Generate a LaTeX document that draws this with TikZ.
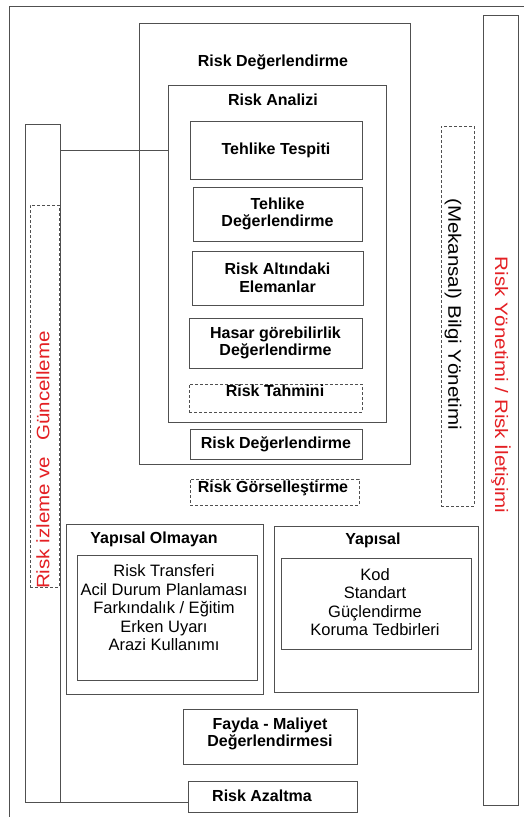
\documentclass[tikz,border=0pt]{standalone}
\usepackage{fontspec}
\setmainfont{Liberation Sans}
\definecolor{lineg}{RGB}{80,80,80}
\definecolor{rred}{RGB}{228,32,36}
\begin{document}
\begin{tikzpicture}[x=1pt,y=-1pt,
  box/.style={draw=lineg,line width=0.9pt,inner sep=0pt,rectangle,fill=white},
  dbox/.style={box,dashed,dash pattern=on 3pt off 2pt},
  bt/.style={font=\fontsize{16}{17.5}\selectfont\bfseries,align=center,inner sep=0pt},
  rt/.style={font=\fontsize{16.5}{18.5}\selectfont,align=center,inner sep=0pt},
  vt/.style={font=\fontsize{18}{20}\selectfont,inner sep=0pt},
  conn/.style={draw=lineg,line width=0.9pt}]
\useasboundingbox (0,0) rectangle (524,817);
\fill[white] (0,0) rectangle (524,817);
% outer frame (partially visible)
\coordinate (fbl) at (9,817);
\coordinate (ftl) at (9,6);
\coordinate (ftr) at (524,6);
\draw[conn] (fbl) -- (ftl) -- (ftr);
% right red column
\node[box,minimum width=35,minimum height=790] (rmr) at (500.5,410) {};
\node[vt,rotate=-90,xscale=1.14,text=rred] (rmrt) at (501,385) {Risk Yönetimi / Risk İletişimi};
% spatial information management
\node[dbox,minimum width=33,minimum height=380] (mek) at (457.5,316) {};
\node[vt,rotate=-90,xscale=1.14] (mekt) at (453,314) {(Mekansal) Bilgi Yönetimi};
% left monitoring column
\node[box,minimum width=35,minimum height=678] (rig) at (42.5,463) {};
\node[dbox,minimum width=29,minimum height=382] (rigd) at (44.5,396) {};
\node[vt,rotate=90,xscale=1.14,text=rred] (rigt) at (43,460) {Risk izleme ve\hspace{14pt}Güncelleme};
% risk assessment
\node[box,minimum width=271,minimum height=441] (rd) at (274.5,243.5) {};
\node[bt] (rdt) at (273,62) {Risk Değerlendirme};
\node[box,minimum width=218,minimum height=337] (ra) at (277,253.5) {};
\node[bt] (rat) at (273,100) {Risk Analizi};
\node[box,bt,minimum width=172,minimum height=58] (tt) at (276,150) {Tehlike Tespiti};
\node[box,bt,minimum width=169,minimum height=54] (td) at (277.5,214) {Tehlike\\Değerlendirme};
\node[box,bt,minimum width=171,minimum height=54] (rae) at (277.5,278) {Risk Altındaki\\Elemanlar};
\node[box,bt,minimum width=173,minimum height=50] (hgd) at (275.5,343) {Hasar görebilirlik\\Değerlendirme};
\node[dbox,minimum width=173,minimum height=28] (rtb) at (275.5,398) {};
\node[bt] (rtt) at (275,390.5) {Risk Tahmini};
\node[box,bt,minimum width=172,minimum height=30] (rd2) at (276,444) {Risk Değerlendirme};
\node[dbox,minimum width=169,minimum height=26] (rgb) at (274.5,492) {};
\node[bt] (rgt) at (273,488.5) {Risk Görselleştirme};
% connector from monitoring to analysis
\draw[conn] (tt.west -| rig.east) -- (tt.west -| ra.west);
% non-structural
\node[box,minimum width=197,minimum height=170] (ryo) at (164.5,609) {};
\node[bt] (ryot) at (154,539) {Yapısal Olmayan};
\node[box,minimum width=180,minimum height=125] (ryoi) at (167,617.5) {};
\node[rt] (ryoit) at (164,608) {Risk Transferi\\Acil Durum Planlaması\\Farkındalık / Eğitim\\Erken Uyarı\\Arazi Kullanımı};
% structural
\node[box,minimum width=204,minimum height=166] (ry) at (376,609) {};
\node[bt] (ryt) at (373,540) {Yapısal};
\node[box,minimum width=190,minimum height=91] (ryi) at (376,603.5) {};
\node[rt] (ryit) at (375,602) {Kod\\Standart\\Güçlendirme\\Koruma Tedbirleri};
% cost benefit
\node[box,minimum width=174,minimum height=55] (fm) at (270,736.5) {};
\node[bt] (fmt) at (270,734) {Fayda - Maliyet\\Değerlendirmesi};
% risk reduction
\node[box,minimum width=169,minimum height=31] (raz) at (272.5,796.5) {};
\node[bt] (razt) at (262,796) {Risk Azaltma};
\draw[conn] (rig.south east) -- (rig.south east -| raz.west);
\end{tikzpicture}
\end{document}
